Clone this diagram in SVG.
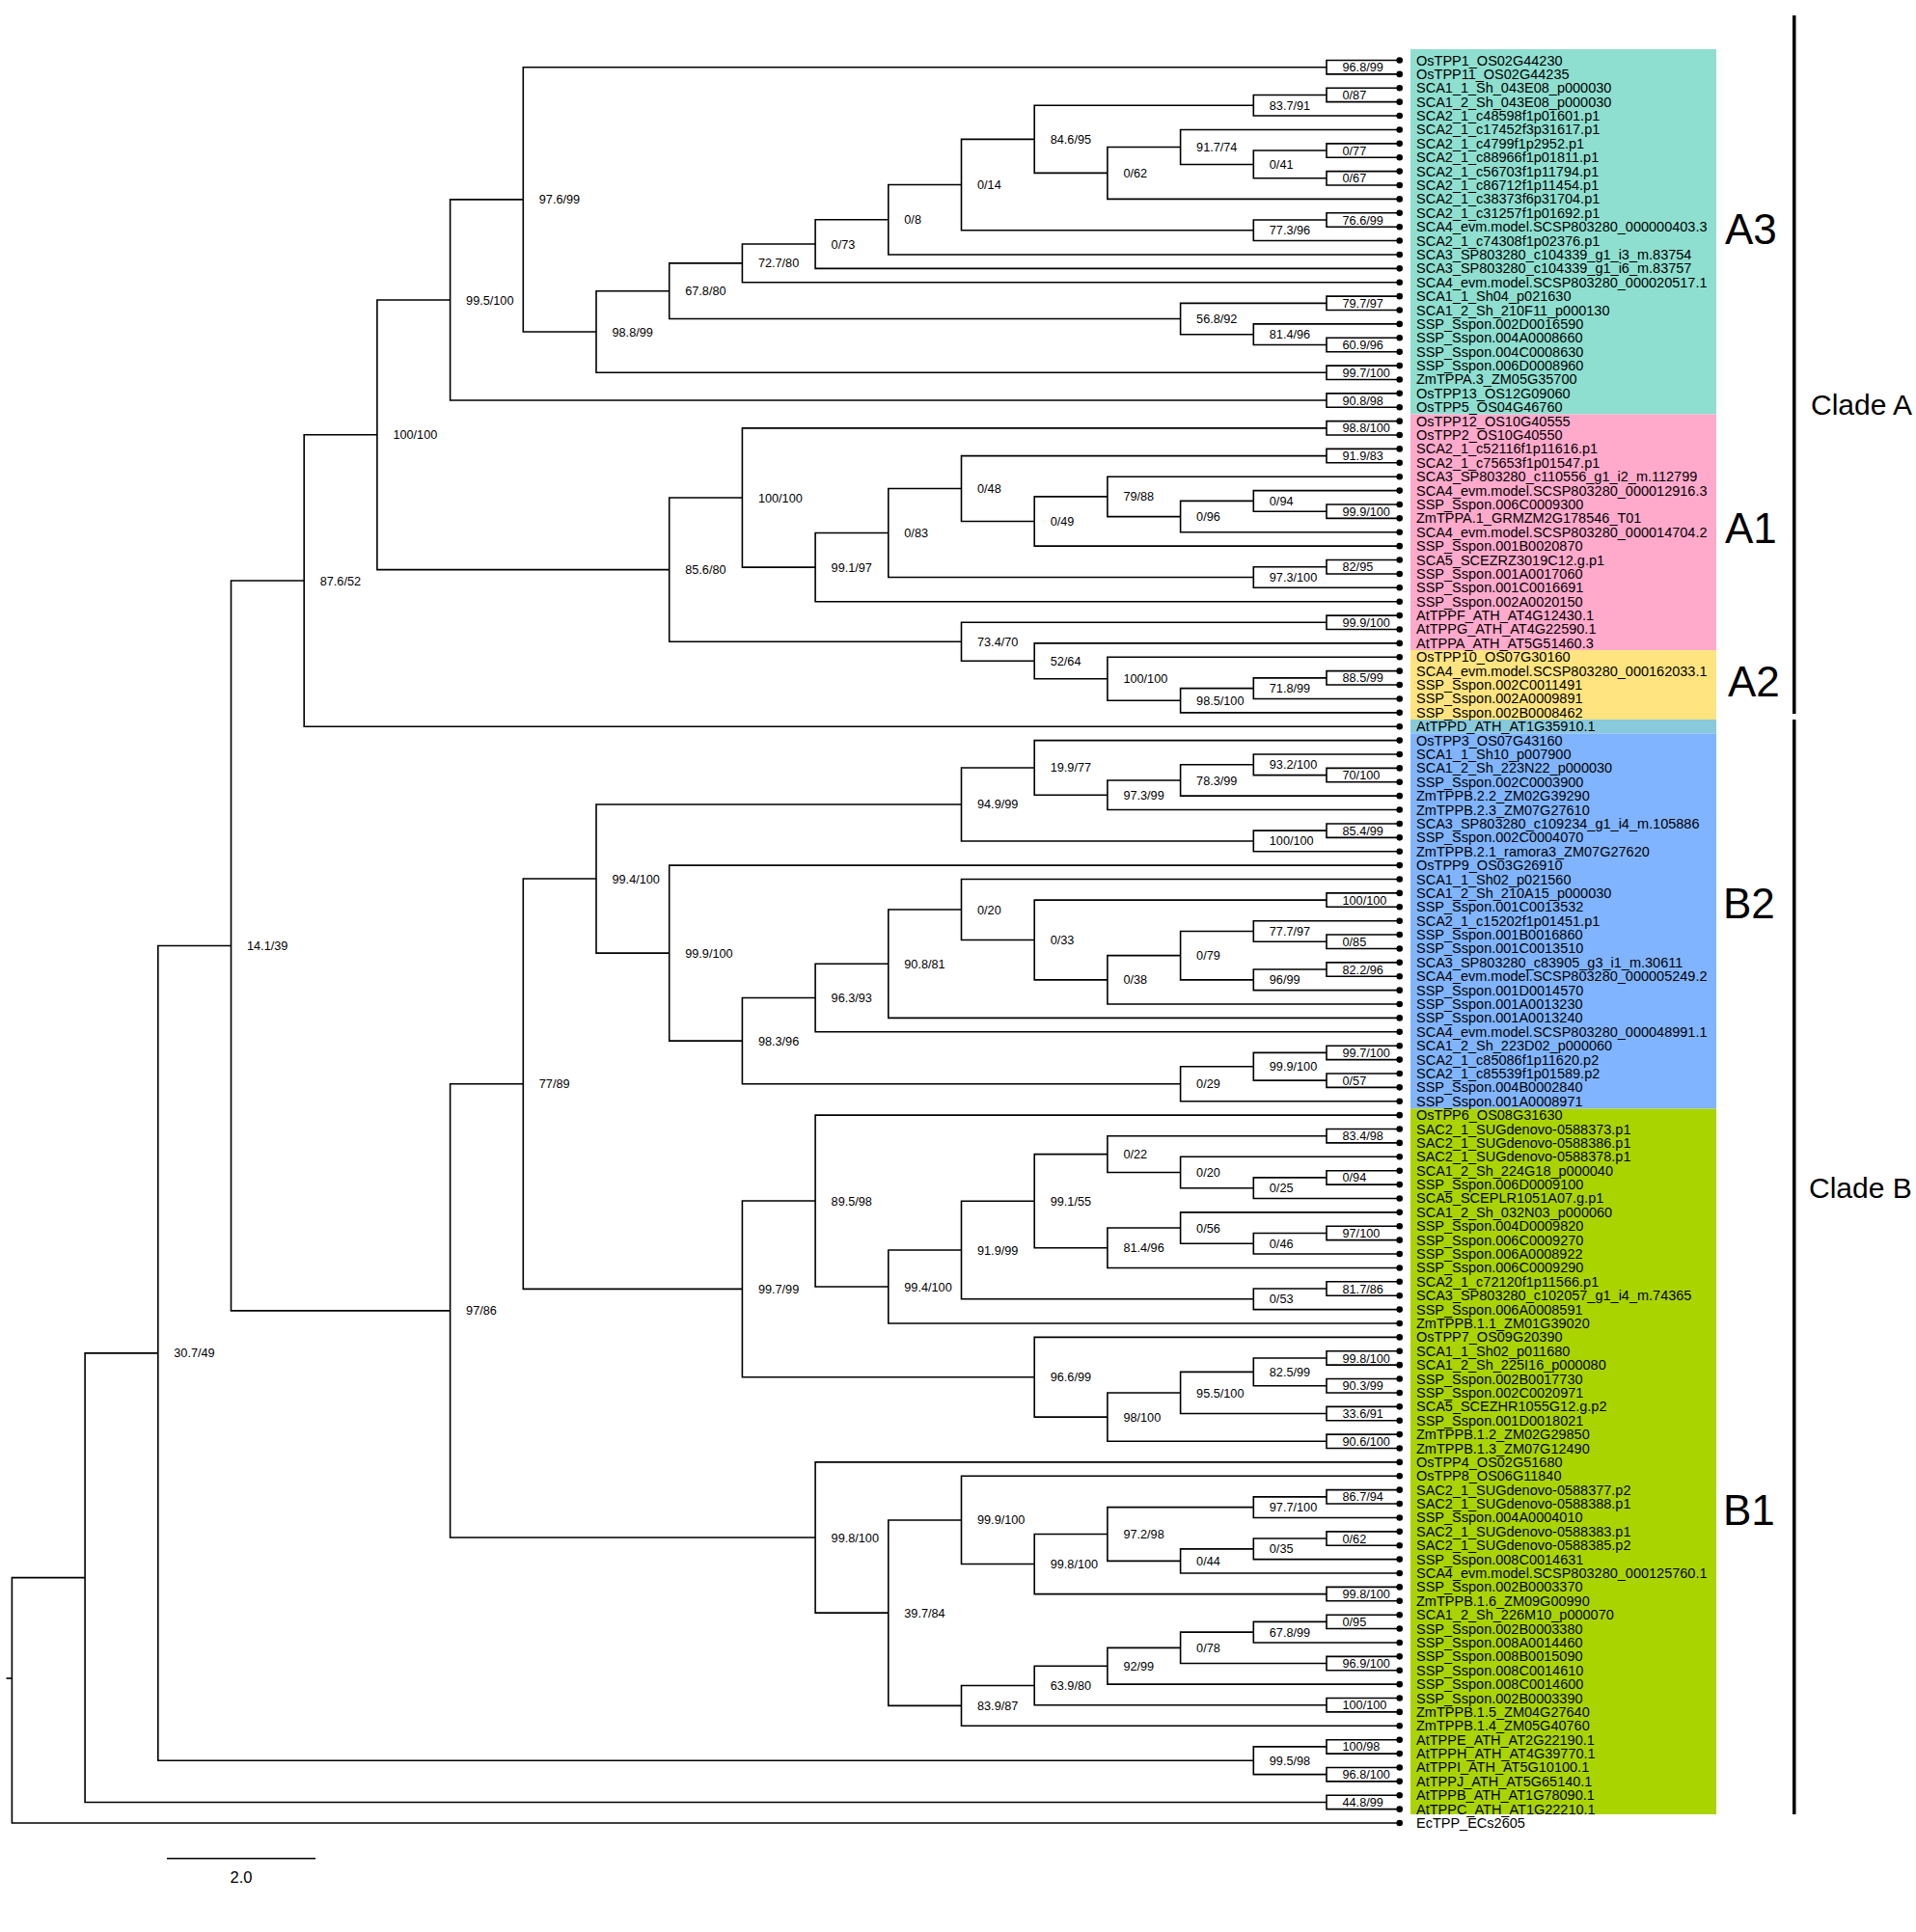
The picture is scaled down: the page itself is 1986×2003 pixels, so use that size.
<svg xmlns="http://www.w3.org/2000/svg" width="1986" height="2003" viewBox="0 0 1986 2003">
<style>
.br{fill:none;stroke:#000;stroke-width:1.6;stroke-linejoin:miter}
.lf text{font-family:"Liberation Sans",Arial,sans-serif;font-size:14.5px;fill:#000}
.lf circle{fill:#000}
.bs{font-family:"Liberation Sans",Arial,sans-serif;font-size:12.7px;fill:#000}
.cl{font-family:"Liberation Sans",Arial,sans-serif;font-size:44px;fill:#000}
.cn{font-family:"Liberation Sans",Arial,sans-serif;font-size:30px;fill:#000}
</style>
<rect width="1986" height="2003" fill="#fff"/>
<g id="bands">
<rect x="1462" y="51" width="317" height="378.5" fill="#8EDFCF"/>
<rect x="1462" y="429.5" width="317" height="244.6" fill="#FFA9CB"/>
<rect x="1462" y="674.1" width="317" height="71.9" fill="#FFE47F"/>
<rect x="1462" y="746" width="317" height="14.4" fill="#88CADC"/>
<rect x="1462" y="760.4" width="317" height="389.1" fill="#80B4FF"/>
<rect x="1462" y="1149.5" width="317" height="731.5" fill="#AAD400"/>
</g>
<g id="clades">
<rect x="1858" y="16" width="3.5" height="724" fill="#000"/>
<rect x="1858" y="746" width="3.5" height="1135" fill="#000"/>
<text class="cn" x="1877" y="430">Clade A</text>
<text class="cn" x="1875" y="1242">Clade B</text>
<text class="cl" x="1788" y="253">A3</text>
<text class="cl" x="1788" y="563">A1</text>
<text class="cl" x="1791" y="722">A2</text>
<text class="cl" x="1786" y="952">B2</text>
<text class="cl" x="1786" y="1581">B1</text>
</g>
<g id="connectors" class="br">
<path d="M1450.7 62.5H1375V76.89H1450.7"/>
<path d="M1450.7 91.28H1375V105.67H1450.7"/>
<path d="M1375 98.48H1299.3V120.06H1450.7"/>
<path d="M1450.7 148.84H1375V163.23H1450.7"/>
<path d="M1450.7 177.62H1375V192.01H1450.7"/>
<path d="M1375 156.04H1299.3V184.82H1375"/>
<path d="M1450.7 134.45H1223.6V170.43H1299.3"/>
<path d="M1223.6 152.44H1147.9V206.4H1450.7"/>
<path d="M1299.3 109.27H1072.2V179.42H1147.9"/>
<path d="M1450.7 220.79H1375V235.18H1450.7"/>
<path d="M1375 227.99H1299.3V249.57H1450.7"/>
<path d="M1072.2 144.35H996.5V238.78H1299.3"/>
<path d="M996.5 191.57H920.8V263.96H1450.7"/>
<path d="M920.8 227.76H845.1V278.35H1450.7"/>
<path d="M845.1 253.06H769.4V292.74H1450.7"/>
<path d="M1450.7 307.13H1375V321.52H1450.7"/>
<path d="M1450.7 350.3H1375V364.69H1450.7"/>
<path d="M1450.7 335.91H1299.3V357.5H1375"/>
<path d="M1375 314.33H1223.6V346.7H1299.3"/>
<path d="M769.4 272.9H693.7V330.52H1223.6"/>
<path d="M1450.7 379.08H1375V393.47H1450.7"/>
<path d="M693.7 301.71H618V386.28H1375"/>
<path d="M1375 69.7H542.3V344H618"/>
<path d="M1450.7 407.86H1375V422.25H1450.7"/>
<path d="M542.3 206.85H466.6V415.06H1375"/>
<path d="M1450.7 436.64H1375V451.03H1450.7"/>
<path d="M1450.7 465.42H1375V479.81H1450.7"/>
<path d="M1450.7 522.98H1375V537.37H1450.7"/>
<path d="M1450.7 508.59H1299.3V530.18H1375"/>
<path d="M1299.3 519.39H1223.6V551.76H1450.7"/>
<path d="M1450.7 494.2H1147.9V535.58H1223.6"/>
<path d="M1147.9 514.89H1072.2V566.15H1450.7"/>
<path d="M1375 472.62H996.5V540.52H1072.2"/>
<path d="M1450.7 580.54H1375V594.93H1450.7"/>
<path d="M1375 587.74H1299.3V609.32H1450.7"/>
<path d="M996.5 506.57H920.8V598.53H1299.3"/>
<path d="M920.8 552.55H845.1V623.71H1450.7"/>
<path d="M1375 443.84H769.4V588.13H845.1"/>
<path d="M1450.7 638.1H1375V652.49H1450.7"/>
<path d="M1450.7 695.66H1375V710.05H1450.7"/>
<path d="M1375 702.86H1299.3V724.44H1450.7"/>
<path d="M1299.3 713.65H1223.6V738.83H1450.7"/>
<path d="M1450.7 681.27H1147.9V726.24H1223.6"/>
<path d="M1450.7 666.88H1072.2V703.76H1147.9"/>
<path d="M1375 645.3H996.5V685.32H1072.2"/>
<path d="M769.4 515.99H693.7V665.31H996.5"/>
<path d="M466.6 310.96H390.9V590.65H693.7"/>
<path d="M390.9 450.81H315.2V753.22H1450.7"/>
<path d="M1450.7 796.39H1375V810.78H1450.7"/>
<path d="M1450.7 782H1299.3V803.59H1375"/>
<path d="M1299.3 792.8H1223.6V825.17H1450.7"/>
<path d="M1223.6 808.99H1147.9V839.56H1450.7"/>
<path d="M1450.7 767.61H1072.2V824.27H1147.9"/>
<path d="M1450.7 853.95H1375V868.34H1450.7"/>
<path d="M1375 861.15H1299.3V882.73H1450.7"/>
<path d="M1072.2 795.94H996.5V871.94H1299.3"/>
<path d="M1450.7 925.9H1375V940.29H1450.7"/>
<path d="M1450.7 969.07H1375V983.46H1450.7"/>
<path d="M1450.7 954.68H1299.3V976.27H1375"/>
<path d="M1450.7 997.85H1375V1012.24H1450.7"/>
<path d="M1375 1005.05H1299.3V1026.63H1450.7"/>
<path d="M1299.3 965.47H1223.6V1015.84H1299.3"/>
<path d="M1223.6 990.66H1147.9V1041.02H1450.7"/>
<path d="M1375 933.1H1072.2V1015.84H1147.9"/>
<path d="M1450.7 911.51H996.5V974.47H1072.2"/>
<path d="M996.5 942.99H920.8V1055.41H1450.7"/>
<path d="M920.8 999.2H845.1V1069.8H1450.7"/>
<path d="M1450.7 1084.19H1375V1098.58H1450.7"/>
<path d="M1450.7 1112.97H1375V1127.36H1450.7"/>
<path d="M1375 1091.39H1299.3V1120.17H1375"/>
<path d="M1299.3 1105.78H1223.6V1141.75H1450.7"/>
<path d="M845.1 1034.5H769.4V1123.77H1223.6"/>
<path d="M1450.7 897.12H693.7V1079.14H769.4"/>
<path d="M996.5 833.94H618V988.13H693.7"/>
<path d="M1450.7 1170.53H1375V1184.92H1450.7"/>
<path d="M1450.7 1213.7H1375V1228.09H1450.7"/>
<path d="M1375 1220.9H1299.3V1242.48H1450.7"/>
<path d="M1450.7 1199.31H1223.6V1231.69H1299.3"/>
<path d="M1375 1177.73H1147.9V1215.5H1223.6"/>
<path d="M1450.7 1271.26H1375V1285.65H1450.7"/>
<path d="M1375 1278.46H1299.3V1300.04H1450.7"/>
<path d="M1450.7 1256.87H1223.6V1289.25H1299.3"/>
<path d="M1223.6 1273.06H1147.9V1314.43H1450.7"/>
<path d="M1147.9 1196.62H1072.2V1293.75H1147.9"/>
<path d="M1450.7 1328.82H1375V1343.21H1450.7"/>
<path d="M1375 1336.02H1299.3V1357.6H1450.7"/>
<path d="M1072.2 1245.18H996.5V1346.81H1299.3"/>
<path d="M996.5 1296H920.8V1371.99H1450.7"/>
<path d="M1450.7 1156.14H845.1V1334H920.8"/>
<path d="M1450.7 1400.77H1375V1415.16H1450.7"/>
<path d="M1450.7 1429.55H1375V1443.94H1450.7"/>
<path d="M1375 1407.97H1299.3V1436.75H1375"/>
<path d="M1450.7 1458.33H1375V1472.72H1450.7"/>
<path d="M1299.3 1422.36H1223.6V1465.53H1375"/>
<path d="M1450.7 1487.11H1375V1501.5H1450.7"/>
<path d="M1223.6 1443.95H1147.9V1494.31H1375"/>
<path d="M1450.7 1386.38H1072.2V1469.13H1147.9"/>
<path d="M845.1 1245.07H769.4V1427.76H1072.2"/>
<path d="M618 911.04H542.3V1336.42H769.4"/>
<path d="M1450.7 1544.67H1375V1559.06H1450.7"/>
<path d="M1375 1551.87H1299.3V1573.45H1450.7"/>
<path d="M1450.7 1587.84H1375V1602.23H1450.7"/>
<path d="M1375 1595.04H1299.3V1616.62H1450.7"/>
<path d="M1299.3 1605.83H1223.6V1631.01H1450.7"/>
<path d="M1299.3 1562.66H1147.9V1618.42H1223.6"/>
<path d="M1450.7 1645.4H1375V1659.79H1450.7"/>
<path d="M1147.9 1590.54H1072.2V1652.6H1375"/>
<path d="M1450.7 1530.28H996.5V1621.57H1072.2"/>
<path d="M1450.7 1674.18H1375V1688.57H1450.7"/>
<path d="M1375 1681.38H1299.3V1702.96H1450.7"/>
<path d="M1450.7 1717.35H1375V1731.74H1450.7"/>
<path d="M1299.3 1692.17H1223.6V1724.55H1375"/>
<path d="M1223.6 1708.36H1147.9V1746.13H1450.7"/>
<path d="M1450.7 1760.52H1375V1774.91H1450.7"/>
<path d="M1147.9 1727.25H1072.2V1767.72H1375"/>
<path d="M1072.2 1747.49H996.5V1789.3H1450.7"/>
<path d="M996.5 1575.93H920.8V1768.4H996.5"/>
<path d="M1450.7 1515.89H845.1V1672.17H920.8"/>
<path d="M542.3 1123.73H466.6V1594.03H845.1"/>
<path d="M315.2 602.02H239.5V1358.88H466.6"/>
<path d="M1450.7 1803.69H1375V1818.08H1450.7"/>
<path d="M1450.7 1832.47H1375V1846.86H1450.7"/>
<path d="M1375 1810.89H1299.3V1839.67H1375"/>
<path d="M239.5 980.45H163.8V1825.28H1299.3"/>
<path d="M1450.7 1861.25H1375V1875.64H1450.7"/>
<path d="M163.8 1402.87H88.1V1868.45H1375"/>
<path d="M88.1 1635.66H12.4V1890.03H1450.7"/>
<path d="M6.5 1740H12.4"/>
</g>
<g id="nodes" class="bs">
<g id="n-a"><text x="1391.5" y="74.2">96.8/99</text></g>
<g id="n-b"><text x="1391.5" y="103">0/87</text></g>
<g id="n-c"><text x="1315.8" y="113.8">83.7/91</text></g>
<g id="n-d"><text x="1391.5" y="160.5">0/77</text></g>
<g id="n-e"><text x="1391.5" y="189.3">0/67</text></g>
<g id="n-f"><text x="1315.8" y="174.9">0/41</text></g>
<g id="n-g"><text x="1240.1" y="156.9">91.7/74</text></g>
<g id="n-h"><text x="1164.4" y="183.9">0/62</text></g>
<g id="n-i"><text x="1088.7" y="148.9">84.6/95</text></g>
<g id="n-j"><text x="1391.5" y="232.5">76.6/99</text></g>
<g id="n-k"><text x="1315.8" y="243.3">77.3/96</text></g>
<g id="n-l"><text x="1013" y="196.1">0/14</text></g>
<g id="n-m"><text x="937.3" y="232.3">0/8</text></g>
<g id="n-n"><text x="861.6" y="257.6">0/73</text></g>
<g id="n-o"><text x="785.9" y="277.4">72.7/80</text></g>
<g id="n-p"><text x="1391.5" y="318.8">79.7/97</text></g>
<g id="n-q"><text x="1391.5" y="362">60.9/96</text></g>
<g id="n-r"><text x="1315.8" y="351.2">81.4/96</text></g>
<g id="n-s"><text x="1240.1" y="335">56.8/92</text></g>
<g id="n-t"><text x="710.2" y="306.2">67.8/80</text></g>
<g id="n-u"><text x="1391.5" y="390.8">99.7/100</text></g>
<g id="n-v"><text x="634.5" y="348.5">98.8/99</text></g>
<g id="n-w"><text x="558.8" y="211.4">97.6/99</text></g>
<g id="n-x"><text x="1391.5" y="419.6">90.8/98</text></g>
<g id="n-y"><text x="483.1" y="315.5">99.5/100</text></g>
<g id="n-1"><text x="1391.5" y="448.3">98.8/100</text></g>
<g id="n-2"><text x="1391.5" y="477.1">91.9/83</text></g>
<g id="n-3"><text x="1391.5" y="534.7">99.9/100</text></g>
<g id="n-4"><text x="1315.8" y="523.9">0/94</text></g>
<g id="n-5"><text x="1240.1" y="540.1">0/96</text></g>
<g id="n-6"><text x="1164.4" y="519.4">79/88</text></g>
<g id="n-7"><text x="1088.7" y="545">0/49</text></g>
<g id="n-8"><text x="1013" y="511.1">0/48</text></g>
<g id="n-9"><text x="1391.5" y="592.2">82/95</text></g>
<g id="n-10"><text x="1315.8" y="603">97.3/100</text></g>
<g id="n-11"><text x="937.3" y="557.1">0/83</text></g>
<g id="n-12"><text x="861.6" y="592.6">99.1/97</text></g>
<g id="n-13"><text x="785.9" y="520.5">100/100</text></g>
<g id="n-14"><text x="1391.5" y="649.8">99.9/100</text></g>
<g id="n-16"><text x="1391.5" y="707.4">88.5/99</text></g>
<g id="n-17"><text x="1315.8" y="718.2">71.8/99</text></g>
<g id="n-18"><text x="1240.1" y="730.7">98.5/100</text></g>
<g id="n-19"><text x="1164.4" y="708.3">100/100</text></g>
<g id="n-20"><text x="1088.7" y="689.8">52/64</text></g>
<g id="n-21"><text x="1013" y="669.8">73.4/70</text></g>
<g id="n-22"><text x="710.2" y="595.2">85.6/80</text></g>
<g id="n-23"><text x="407.4" y="455.3">100/100</text></g>
<g id="n-24"><text x="331.7" y="606.5">87.6/52</text></g>
<g id="n-b1"><text x="1391.5" y="808.1">70/100</text></g>
<g id="n-b2"><text x="1315.8" y="797.3">93.2/100</text></g>
<g id="n-b3"><text x="1240.1" y="813.5">78.3/99</text></g>
<g id="n-b4"><text x="1164.4" y="828.8">97.3/99</text></g>
<g id="n-b5"><text x="1088.7" y="800.4">19.9/77</text></g>
<g id="n-b6"><text x="1391.5" y="865.7">85.4/99</text></g>
<g id="n-b7"><text x="1315.8" y="876.4">100/100</text></g>
<g id="n-b8"><text x="1013" y="838.4">94.9/99</text></g>
<g id="n-c1"><text x="1391.5" y="937.6">100/100</text></g>
<g id="n-c3"><text x="1391.5" y="980.8">0/85</text></g>
<g id="n-c2"><text x="1315.8" y="970">77.7/97</text></g>
<g id="n-c4"><text x="1391.5" y="1009.6">82.2/96</text></g>
<g id="n-c5"><text x="1315.8" y="1020.3">96/99</text></g>
<g id="n-c6"><text x="1240.1" y="995.2">0/79</text></g>
<g id="n-c7"><text x="1164.4" y="1020.3">0/38</text></g>
<g id="n-c8"><text x="1088.7" y="979">0/33</text></g>
<g id="n-c9"><text x="1013" y="947.5">0/20</text></g>
<g id="n-c10"><text x="937.3" y="1003.7">90.8/81</text></g>
<g id="n-c11"><text x="861.6" y="1039">96.3/93</text></g>
<g id="n-d1"><text x="1391.5" y="1095.9">99.7/100</text></g>
<g id="n-d2"><text x="1391.5" y="1124.7">0/57</text></g>
<g id="n-d3"><text x="1315.8" y="1110.3">99.9/100</text></g>
<g id="n-d4"><text x="1240.1" y="1128.3">0/29</text></g>
<g id="n-c12"><text x="785.9" y="1083.6">98.3/96</text></g>
<g id="n-c13"><text x="710.2" y="992.6">99.9/100</text></g>
<g id="n-c14"><text x="634.5" y="915.5">99.4/100</text></g>
<g id="n-e1"><text x="1391.5" y="1182.2">83.4/98</text></g>
<g id="n-e2"><text x="1391.5" y="1225.4">0/94</text></g>
<g id="n-e3"><text x="1315.8" y="1236.2">0/25</text></g>
<g id="n-e4"><text x="1240.1" y="1220">0/20</text></g>
<g id="n-e5"><text x="1164.4" y="1201.1">0/22</text></g>
<g id="n-e6"><text x="1391.5" y="1283">97/100</text></g>
<g id="n-e7"><text x="1315.8" y="1293.8">0/46</text></g>
<g id="n-e8"><text x="1240.1" y="1277.6">0/56</text></g>
<g id="n-e9"><text x="1164.4" y="1298.3">81.4/96</text></g>
<g id="n-e10"><text x="1088.7" y="1249.7">99.1/55</text></g>
<g id="n-e11"><text x="1391.5" y="1340.5">81.7/86</text></g>
<g id="n-e12"><text x="1315.8" y="1351.3">0/53</text></g>
<g id="n-e13"><text x="1013" y="1300.5">91.9/99</text></g>
<g id="n-e14"><text x="937.3" y="1338.5">99.4/100</text></g>
<g id="n-e15"><text x="861.6" y="1249.6">89.5/98</text></g>
<g id="n-f1"><text x="1391.5" y="1412.5">99.8/100</text></g>
<g id="n-f2"><text x="1391.5" y="1441.3">90.3/99</text></g>
<g id="n-f3"><text x="1315.8" y="1426.9">82.5/99</text></g>
<g id="n-f4"><text x="1391.5" y="1470">33.6/91</text></g>
<g id="n-f5"><text x="1240.1" y="1448.5">95.5/100</text></g>
<g id="n-f6"><text x="1391.5" y="1498.8">90.6/100</text></g>
<g id="n-f7"><text x="1164.4" y="1473.6">98/100</text></g>
<g id="n-f8"><text x="1088.7" y="1432.3">96.6/99</text></g>
<g id="n-f9"><text x="785.9" y="1340.9">99.7/99</text></g>
<g id="n-i1"><text x="558.8" y="1128.2">77/89</text></g>
<g id="n-g1"><text x="1391.5" y="1556.4">86.7/94</text></g>
<g id="n-g2"><text x="1315.8" y="1567.2">97.7/100</text></g>
<g id="n-g3"><text x="1391.5" y="1599.5">0/62</text></g>
<g id="n-g4"><text x="1315.8" y="1610.3">0/35</text></g>
<g id="n-g5"><text x="1240.1" y="1622.9">0/44</text></g>
<g id="n-g6"><text x="1164.4" y="1595">97.2/98</text></g>
<g id="n-g7"><text x="1391.5" y="1657.1">99.8/100</text></g>
<g id="n-g8"><text x="1088.7" y="1626.1">99.8/100</text></g>
<g id="n-g9"><text x="1013" y="1580.4">99.9/100</text></g>
<g id="n-h1"><text x="1391.5" y="1685.9">0/95</text></g>
<g id="n-h2"><text x="1315.8" y="1696.7">67.8/99</text></g>
<g id="n-h3"><text x="1391.5" y="1729.1">96.9/100</text></g>
<g id="n-h4"><text x="1240.1" y="1712.9">0/78</text></g>
<g id="n-h5"><text x="1164.4" y="1731.8">92/99</text></g>
<g id="n-h6"><text x="1391.5" y="1772.2">100/100</text></g>
<g id="n-h7"><text x="1088.7" y="1752">63.9/80</text></g>
<g id="n-h8"><text x="1013" y="1772.9">83.9/87</text></g>
<g id="n-h9"><text x="937.3" y="1676.7">39.7/84</text></g>
<g id="n-h10"><text x="861.6" y="1598.5">99.8/100</text></g>
<g id="n-97"><text x="483.1" y="1363.4">97/86</text></g>
<g id="n-141"><text x="256" y="985">14.1/39</text></g>
<g id="n-j1"><text x="1391.5" y="1815.4">100/98</text></g>
<g id="n-j2"><text x="1391.5" y="1844.2">96.8/100</text></g>
<g id="n-j3"><text x="1315.8" y="1829.8">99.5/98</text></g>
<g id="n-307"><text x="180.3" y="1407.4">30.7/49</text></g>
<g id="n-k1"><text x="1391.5" y="1873">44.8/99</text></g>
</g>
<g id="leaves" class="lf">
<g id="L1" transform="translate(0 62.5)"><circle cx="1450.7" r="3.3"/><text x="1468" y="5">OsTPP1_OS02G44230</text></g>
<g id="L2" transform="translate(0 76.89)"><circle cx="1450.7" r="3.3"/><text x="1468" y="5">OsTPP11_OS02G44235</text></g>
<g id="L3" transform="translate(0 91.28)"><circle cx="1450.7" r="3.3"/><text x="1468" y="5">SCA1_1_Sh_043E08_p000030</text></g>
<g id="L4" transform="translate(0 105.67)"><circle cx="1450.7" r="3.3"/><text x="1468" y="5">SCA1_2_Sh_043E08_p000030</text></g>
<g id="L5" transform="translate(0 120.06)"><circle cx="1450.7" r="3.3"/><text x="1468" y="5">SCA2_1_c48598f1p01601.p1</text></g>
<g id="L6" transform="translate(0 134.45)"><circle cx="1450.7" r="3.3"/><text x="1468" y="5">SCA2_1_c17452f3p31617.p1</text></g>
<g id="L7" transform="translate(0 148.84)"><circle cx="1450.7" r="3.3"/><text x="1468" y="5">SCA2_1_c4799f1p2952.p1</text></g>
<g id="L8" transform="translate(0 163.23)"><circle cx="1450.7" r="3.3"/><text x="1468" y="5">SCA2_1_c88966f1p01811.p1</text></g>
<g id="L9" transform="translate(0 177.62)"><circle cx="1450.7" r="3.3"/><text x="1468" y="5">SCA2_1_c56703f1p11794.p1</text></g>
<g id="L10" transform="translate(0 192.01)"><circle cx="1450.7" r="3.3"/><text x="1468" y="5">SCA2_1_c86712f1p11454.p1</text></g>
<g id="L11" transform="translate(0 206.4)"><circle cx="1450.7" r="3.3"/><text x="1468" y="5">SCA2_1_c38373f6p31704.p1</text></g>
<g id="L12" transform="translate(0 220.79)"><circle cx="1450.7" r="3.3"/><text x="1468" y="5">SCA2_1_c31257f1p01692.p1</text></g>
<g id="L13" transform="translate(0 235.18)"><circle cx="1450.7" r="3.3"/><text x="1468" y="5">SCA4_evm.model.SCSP803280_000000403.3</text></g>
<g id="L14" transform="translate(0 249.57)"><circle cx="1450.7" r="3.3"/><text x="1468" y="5">SCA2_1_c74308f1p02376.p1</text></g>
<g id="L15" transform="translate(0 263.96)"><circle cx="1450.7" r="3.3"/><text x="1468" y="5">SCA3_SP803280_c104339_g1_i3_m.83754</text></g>
<g id="L16" transform="translate(0 278.35)"><circle cx="1450.7" r="3.3"/><text x="1468" y="5">SCA3_SP803280_c104339_g1_i6_m.83757</text></g>
<g id="L17" transform="translate(0 292.74)"><circle cx="1450.7" r="3.3"/><text x="1468" y="5">SCA4_evm.model.SCSP803280_000020517.1</text></g>
<g id="L18" transform="translate(0 307.13)"><circle cx="1450.7" r="3.3"/><text x="1468" y="5">SCA1_1_Sh04_p021630</text></g>
<g id="L19" transform="translate(0 321.52)"><circle cx="1450.7" r="3.3"/><text x="1468" y="5">SCA1_2_Sh_210F11_p000130</text></g>
<g id="L20" transform="translate(0 335.91)"><circle cx="1450.7" r="3.3"/><text x="1468" y="5">SSP_Sspon.002D0016590</text></g>
<g id="L21" transform="translate(0 350.3)"><circle cx="1450.7" r="3.3"/><text x="1468" y="5">SSP_Sspon.004A0008660</text></g>
<g id="L22" transform="translate(0 364.69)"><circle cx="1450.7" r="3.3"/><text x="1468" y="5">SSP_Sspon.004C0008630</text></g>
<g id="L23" transform="translate(0 379.08)"><circle cx="1450.7" r="3.3"/><text x="1468" y="5">SSP_Sspon.006D0008960</text></g>
<g id="L24" transform="translate(0 393.47)"><circle cx="1450.7" r="3.3"/><text x="1468" y="5">ZmTPPA.3_ZM05G35700</text></g>
<g id="L25" transform="translate(0 407.86)"><circle cx="1450.7" r="3.3"/><text x="1468" y="5">OsTPP13_OS12G09060</text></g>
<g id="L26" transform="translate(0 422.25)"><circle cx="1450.7" r="3.3"/><text x="1468" y="5">OsTPP5_OS04G46760</text></g>
<g id="L27" transform="translate(0 436.64)"><circle cx="1450.7" r="3.3"/><text x="1468" y="5">OsTPP12_OS10G40555</text></g>
<g id="L28" transform="translate(0 451.03)"><circle cx="1450.7" r="3.3"/><text x="1468" y="5">OsTPP2_OS10G40550</text></g>
<g id="L29" transform="translate(0 465.42)"><circle cx="1450.7" r="3.3"/><text x="1468" y="5">SCA2_1_c52116f1p11616.p1</text></g>
<g id="L30" transform="translate(0 479.81)"><circle cx="1450.7" r="3.3"/><text x="1468" y="5">SCA2_1_c75653f1p01547.p1</text></g>
<g id="L31" transform="translate(0 494.2)"><circle cx="1450.7" r="3.3"/><text x="1468" y="5">SCA3_SP803280_c110556_g1_i2_m.112799</text></g>
<g id="L32" transform="translate(0 508.59)"><circle cx="1450.7" r="3.3"/><text x="1468" y="5">SCA4_evm.model.SCSP803280_000012916.3</text></g>
<g id="L33" transform="translate(0 522.98)"><circle cx="1450.7" r="3.3"/><text x="1468" y="5">SSP_Sspon.006C0009300</text></g>
<g id="L34" transform="translate(0 537.37)"><circle cx="1450.7" r="3.3"/><text x="1468" y="5">ZmTPPA.1_GRMZM2G178546_T01</text></g>
<g id="L35" transform="translate(0 551.76)"><circle cx="1450.7" r="3.3"/><text x="1468" y="5">SCA4_evm.model.SCSP803280_000014704.2</text></g>
<g id="L36" transform="translate(0 566.15)"><circle cx="1450.7" r="3.3"/><text x="1468" y="5">SSP_Sspon.001B0020870</text></g>
<g id="L37" transform="translate(0 580.54)"><circle cx="1450.7" r="3.3"/><text x="1468" y="5">SCA5_SCEZRZ3019C12.g.p1</text></g>
<g id="L38" transform="translate(0 594.93)"><circle cx="1450.7" r="3.3"/><text x="1468" y="5">SSP_Sspon.001A0017060</text></g>
<g id="L39" transform="translate(0 609.32)"><circle cx="1450.7" r="3.3"/><text x="1468" y="5">SSP_Sspon.001C0016691</text></g>
<g id="L40" transform="translate(0 623.71)"><circle cx="1450.7" r="3.3"/><text x="1468" y="5">SSP_Sspon.002A0020150</text></g>
<g id="L41" transform="translate(0 638.1)"><circle cx="1450.7" r="3.3"/><text x="1468" y="5">AtTPPF_ATH_AT4G12430.1</text></g>
<g id="L42" transform="translate(0 652.49)"><circle cx="1450.7" r="3.3"/><text x="1468" y="5">AtTPPG_ATH_AT4G22590.1</text></g>
<g id="L43" transform="translate(0 666.88)"><circle cx="1450.7" r="3.3"/><text x="1468" y="5">AtTPPA_ATH_AT5G51460.3</text></g>
<g id="L44" transform="translate(0 681.27)"><circle cx="1450.7" r="3.3"/><text x="1468" y="5">OsTPP10_OS07G30160</text></g>
<g id="L45" transform="translate(0 695.66)"><circle cx="1450.7" r="3.3"/><text x="1468" y="5">SCA4_evm.model.SCSP803280_000162033.1</text></g>
<g id="L46" transform="translate(0 710.05)"><circle cx="1450.7" r="3.3"/><text x="1468" y="5">SSP_Sspon.002C0011491</text></g>
<g id="L47" transform="translate(0 724.44)"><circle cx="1450.7" r="3.3"/><text x="1468" y="5">SSP_Sspon.002A0009891</text></g>
<g id="L48" transform="translate(0 738.83)"><circle cx="1450.7" r="3.3"/><text x="1468" y="5">SSP_Sspon.002B0008462</text></g>
<g id="L49" transform="translate(0 753.22)"><circle cx="1450.7" r="3.3"/><text x="1468" y="5">AtTPPD_ATH_AT1G35910.1</text></g>
<g id="L50" transform="translate(0 767.61)"><circle cx="1450.7" r="3.3"/><text x="1468" y="5">OsTPP3_OS07G43160</text></g>
<g id="L51" transform="translate(0 782)"><circle cx="1450.7" r="3.3"/><text x="1468" y="5">SCA1_1_Sh10_p007900</text></g>
<g id="L52" transform="translate(0 796.39)"><circle cx="1450.7" r="3.3"/><text x="1468" y="5">SCA1_2_Sh_223N22_p000030</text></g>
<g id="L53" transform="translate(0 810.78)"><circle cx="1450.7" r="3.3"/><text x="1468" y="5">SSP_Sspon.002C0003900</text></g>
<g id="L54" transform="translate(0 825.17)"><circle cx="1450.7" r="3.3"/><text x="1468" y="5">ZmTPPB.2.2_ZM02G39290</text></g>
<g id="L55" transform="translate(0 839.56)"><circle cx="1450.7" r="3.3"/><text x="1468" y="5">ZmTPPB.2.3_ZM07G27610</text></g>
<g id="L56" transform="translate(0 853.95)"><circle cx="1450.7" r="3.3"/><text x="1468" y="5">SCA3_SP803280_c109234_g1_i4_m.105886</text></g>
<g id="L57" transform="translate(0 868.34)"><circle cx="1450.7" r="3.3"/><text x="1468" y="5">SSP_Sspon.002C0004070</text></g>
<g id="L58" transform="translate(0 882.73)"><circle cx="1450.7" r="3.3"/><text x="1468" y="5">ZmTPPB.2.1_ramora3_ZM07G27620</text></g>
<g id="L59" transform="translate(0 897.12)"><circle cx="1450.7" r="3.3"/><text x="1468" y="5">OsTPP9_OS03G26910</text></g>
<g id="L60" transform="translate(0 911.51)"><circle cx="1450.7" r="3.3"/><text x="1468" y="5">SCA1_1_Sh02_p021560</text></g>
<g id="L61" transform="translate(0 925.9)"><circle cx="1450.7" r="3.3"/><text x="1468" y="5">SCA1_2_Sh_210A15_p000030</text></g>
<g id="L62" transform="translate(0 940.29)"><circle cx="1450.7" r="3.3"/><text x="1468" y="5">SSP_Sspon.001C0013532</text></g>
<g id="L63" transform="translate(0 954.68)"><circle cx="1450.7" r="3.3"/><text x="1468" y="5">SCA2_1_c15202f1p01451.p1</text></g>
<g id="L64" transform="translate(0 969.07)"><circle cx="1450.7" r="3.3"/><text x="1468" y="5">SSP_Sspon.001B0016860</text></g>
<g id="L65" transform="translate(0 983.46)"><circle cx="1450.7" r="3.3"/><text x="1468" y="5">SSP_Sspon.001C0013510</text></g>
<g id="L66" transform="translate(0 997.85)"><circle cx="1450.7" r="3.3"/><text x="1468" y="5">SCA3_SP803280_c83905_g3_i1_m.30611</text></g>
<g id="L67" transform="translate(0 1012.24)"><circle cx="1450.7" r="3.3"/><text x="1468" y="5">SCA4_evm.model.SCSP803280_000005249.2</text></g>
<g id="L68" transform="translate(0 1026.63)"><circle cx="1450.7" r="3.3"/><text x="1468" y="5">SSP_Sspon.001D0014570</text></g>
<g id="L69" transform="translate(0 1041.02)"><circle cx="1450.7" r="3.3"/><text x="1468" y="5">SSP_Sspon.001A0013230</text></g>
<g id="L70" transform="translate(0 1055.41)"><circle cx="1450.7" r="3.3"/><text x="1468" y="5">SSP_Sspon.001A0013240</text></g>
<g id="L71" transform="translate(0 1069.8)"><circle cx="1450.7" r="3.3"/><text x="1468" y="5">SCA4_evm.model.SCSP803280_000048991.1</text></g>
<g id="L72" transform="translate(0 1084.19)"><circle cx="1450.7" r="3.3"/><text x="1468" y="5">SCA1_2_Sh_223D02_p000060</text></g>
<g id="L73" transform="translate(0 1098.58)"><circle cx="1450.7" r="3.3"/><text x="1468" y="5">SCA2_1_c85086f1p11620.p2</text></g>
<g id="L74" transform="translate(0 1112.97)"><circle cx="1450.7" r="3.3"/><text x="1468" y="5">SCA2_1_c85539f1p01589.p2</text></g>
<g id="L75" transform="translate(0 1127.36)"><circle cx="1450.7" r="3.3"/><text x="1468" y="5">SSP_Sspon.004B0002840</text></g>
<g id="L76" transform="translate(0 1141.75)"><circle cx="1450.7" r="3.3"/><text x="1468" y="5">SSP_Sspon.001A0008971</text></g>
<g id="L77" transform="translate(0 1156.14)"><circle cx="1450.7" r="3.3"/><text x="1468" y="5">OsTPP6_OS08G31630</text></g>
<g id="L78" transform="translate(0 1170.53)"><circle cx="1450.7" r="3.3"/><text x="1468" y="5">SAC2_1_SUGdenovo-0588373.p1</text></g>
<g id="L79" transform="translate(0 1184.92)"><circle cx="1450.7" r="3.3"/><text x="1468" y="5">SAC2_1_SUGdenovo-0588386.p1</text></g>
<g id="L80" transform="translate(0 1199.31)"><circle cx="1450.7" r="3.3"/><text x="1468" y="5">SAC2_1_SUGdenovo-0588378.p1</text></g>
<g id="L81" transform="translate(0 1213.7)"><circle cx="1450.7" r="3.3"/><text x="1468" y="5">SCA1_2_Sh_224G18_p000040</text></g>
<g id="L82" transform="translate(0 1228.09)"><circle cx="1450.7" r="3.3"/><text x="1468" y="5">SSP_Sspon.006D0009100</text></g>
<g id="L83" transform="translate(0 1242.48)"><circle cx="1450.7" r="3.3"/><text x="1468" y="5">SCA5_SCEPLR1051A07.g.p1</text></g>
<g id="L84" transform="translate(0 1256.87)"><circle cx="1450.7" r="3.3"/><text x="1468" y="5">SCA1_2_Sh_032N03_p000060</text></g>
<g id="L85" transform="translate(0 1271.26)"><circle cx="1450.7" r="3.3"/><text x="1468" y="5">SSP_Sspon.004D0009820</text></g>
<g id="L86" transform="translate(0 1285.65)"><circle cx="1450.7" r="3.3"/><text x="1468" y="5">SSP_Sspon.006C0009270</text></g>
<g id="L87" transform="translate(0 1300.04)"><circle cx="1450.7" r="3.3"/><text x="1468" y="5">SSP_Sspon.006A0008922</text></g>
<g id="L88" transform="translate(0 1314.43)"><circle cx="1450.7" r="3.3"/><text x="1468" y="5">SSP_Sspon.006C0009290</text></g>
<g id="L89" transform="translate(0 1328.82)"><circle cx="1450.7" r="3.3"/><text x="1468" y="5">SCA2_1_c72120f1p11566.p1</text></g>
<g id="L90" transform="translate(0 1343.21)"><circle cx="1450.7" r="3.3"/><text x="1468" y="5">SCA3_SP803280_c102057_g1_i4_m.74365</text></g>
<g id="L91" transform="translate(0 1357.6)"><circle cx="1450.7" r="3.3"/><text x="1468" y="5">SSP_Sspon.006A0008591</text></g>
<g id="L92" transform="translate(0 1371.99)"><circle cx="1450.7" r="3.3"/><text x="1468" y="5">ZmTPPB.1.1_ZM01G39020</text></g>
<g id="L93" transform="translate(0 1386.38)"><circle cx="1450.7" r="3.3"/><text x="1468" y="5">OsTPP7_OS09G20390</text></g>
<g id="L94" transform="translate(0 1400.77)"><circle cx="1450.7" r="3.3"/><text x="1468" y="5">SCA1_1_Sh02_p011680</text></g>
<g id="L95" transform="translate(0 1415.16)"><circle cx="1450.7" r="3.3"/><text x="1468" y="5">SCA1_2_Sh_225I16_p000080</text></g>
<g id="L96" transform="translate(0 1429.55)"><circle cx="1450.7" r="3.3"/><text x="1468" y="5">SSP_Sspon.002B0017730</text></g>
<g id="L97" transform="translate(0 1443.94)"><circle cx="1450.7" r="3.3"/><text x="1468" y="5">SSP_Sspon.002C0020971</text></g>
<g id="L98" transform="translate(0 1458.33)"><circle cx="1450.7" r="3.3"/><text x="1468" y="5">SCA5_SCEZHR1055G12.g.p2</text></g>
<g id="L99" transform="translate(0 1472.72)"><circle cx="1450.7" r="3.3"/><text x="1468" y="5">SSP_Sspon.001D0018021</text></g>
<g id="L100" transform="translate(0 1487.11)"><circle cx="1450.7" r="3.3"/><text x="1468" y="5">ZmTPPB.1.2_ZM02G29850</text></g>
<g id="L101" transform="translate(0 1501.5)"><circle cx="1450.7" r="3.3"/><text x="1468" y="5">ZmTPPB.1.3_ZM07G12490</text></g>
<g id="L102" transform="translate(0 1515.89)"><circle cx="1450.7" r="3.3"/><text x="1468" y="5">OsTPP4_OS02G51680</text></g>
<g id="L103" transform="translate(0 1530.28)"><circle cx="1450.7" r="3.3"/><text x="1468" y="5">OsTPP8_OS06G11840</text></g>
<g id="L104" transform="translate(0 1544.67)"><circle cx="1450.7" r="3.3"/><text x="1468" y="5">SAC2_1_SUGdenovo-0588377.p2</text></g>
<g id="L105" transform="translate(0 1559.06)"><circle cx="1450.7" r="3.3"/><text x="1468" y="5">SAC2_1_SUGdenovo-0588388.p1</text></g>
<g id="L106" transform="translate(0 1573.45)"><circle cx="1450.7" r="3.3"/><text x="1468" y="5">SSP_Sspon.004A0004010</text></g>
<g id="L107" transform="translate(0 1587.84)"><circle cx="1450.7" r="3.3"/><text x="1468" y="5">SAC2_1_SUGdenovo-0588383.p1</text></g>
<g id="L108" transform="translate(0 1602.23)"><circle cx="1450.7" r="3.3"/><text x="1468" y="5">SAC2_1_SUGdenovo-0588385.p2</text></g>
<g id="L109" transform="translate(0 1616.62)"><circle cx="1450.7" r="3.3"/><text x="1468" y="5">SSP_Sspon.008C0014631</text></g>
<g id="L110" transform="translate(0 1631.01)"><circle cx="1450.7" r="3.3"/><text x="1468" y="5">SCA4_evm.model.SCSP803280_000125760.1</text></g>
<g id="L111" transform="translate(0 1645.4)"><circle cx="1450.7" r="3.3"/><text x="1468" y="5">SSP_Sspon.002B0003370</text></g>
<g id="L112" transform="translate(0 1659.79)"><circle cx="1450.7" r="3.3"/><text x="1468" y="5">ZmTPPB.1.6_ZM09G00990</text></g>
<g id="L113" transform="translate(0 1674.18)"><circle cx="1450.7" r="3.3"/><text x="1468" y="5">SCA1_2_Sh_226M10_p000070</text></g>
<g id="L114" transform="translate(0 1688.57)"><circle cx="1450.7" r="3.3"/><text x="1468" y="5">SSP_Sspon.002B0003380</text></g>
<g id="L115" transform="translate(0 1702.96)"><circle cx="1450.7" r="3.3"/><text x="1468" y="5">SSP_Sspon.008A0014460</text></g>
<g id="L116" transform="translate(0 1717.35)"><circle cx="1450.7" r="3.3"/><text x="1468" y="5">SSP_Sspon.008B0015090</text></g>
<g id="L117" transform="translate(0 1731.74)"><circle cx="1450.7" r="3.3"/><text x="1468" y="5">SSP_Sspon.008C0014610</text></g>
<g id="L118" transform="translate(0 1746.13)"><circle cx="1450.7" r="3.3"/><text x="1468" y="5">SSP_Sspon.008C0014600</text></g>
<g id="L119" transform="translate(0 1760.52)"><circle cx="1450.7" r="3.3"/><text x="1468" y="5">SSP_Sspon.002B0003390</text></g>
<g id="L120" transform="translate(0 1774.91)"><circle cx="1450.7" r="3.3"/><text x="1468" y="5">ZmTPPB.1.5_ZM04G27640</text></g>
<g id="L121" transform="translate(0 1789.3)"><circle cx="1450.7" r="3.3"/><text x="1468" y="5">ZmTPPB.1.4_ZM05G40760</text></g>
<g id="L122" transform="translate(0 1803.69)"><circle cx="1450.7" r="3.3"/><text x="1468" y="5">AtTPPE_ATH_AT2G22190.1</text></g>
<g id="L123" transform="translate(0 1818.08)"><circle cx="1450.7" r="3.3"/><text x="1468" y="5">AtTPPH_ATH_AT4G39770.1</text></g>
<g id="L124" transform="translate(0 1832.47)"><circle cx="1450.7" r="3.3"/><text x="1468" y="5">AtTPPI_ATH_AT5G10100.1</text></g>
<g id="L125" transform="translate(0 1846.86)"><circle cx="1450.7" r="3.3"/><text x="1468" y="5">AtTPPJ_ATH_AT5G65140.1</text></g>
<g id="L126" transform="translate(0 1861.25)"><circle cx="1450.7" r="3.3"/><text x="1468" y="5">AtTPPB_ATH_AT1G78090.1</text></g>
<g id="L127" transform="translate(0 1875.64)"><circle cx="1450.7" r="3.3"/><text x="1468" y="5">AtTPPC_ATH_AT1G22210.1</text></g>
<g id="L128" transform="translate(0 1890.03)"><circle cx="1450.7" r="3.3"/><text x="1468" y="5">EcTPP_ECs2605</text></g>
</g>
<g id="scale">
<path class="br" d="M173 1926.7H327"/>
<text x="250" y="1952" text-anchor="middle" font-family="Liberation Sans, Arial, sans-serif" font-size="16.5">2.0</text>
</g>
</svg>
